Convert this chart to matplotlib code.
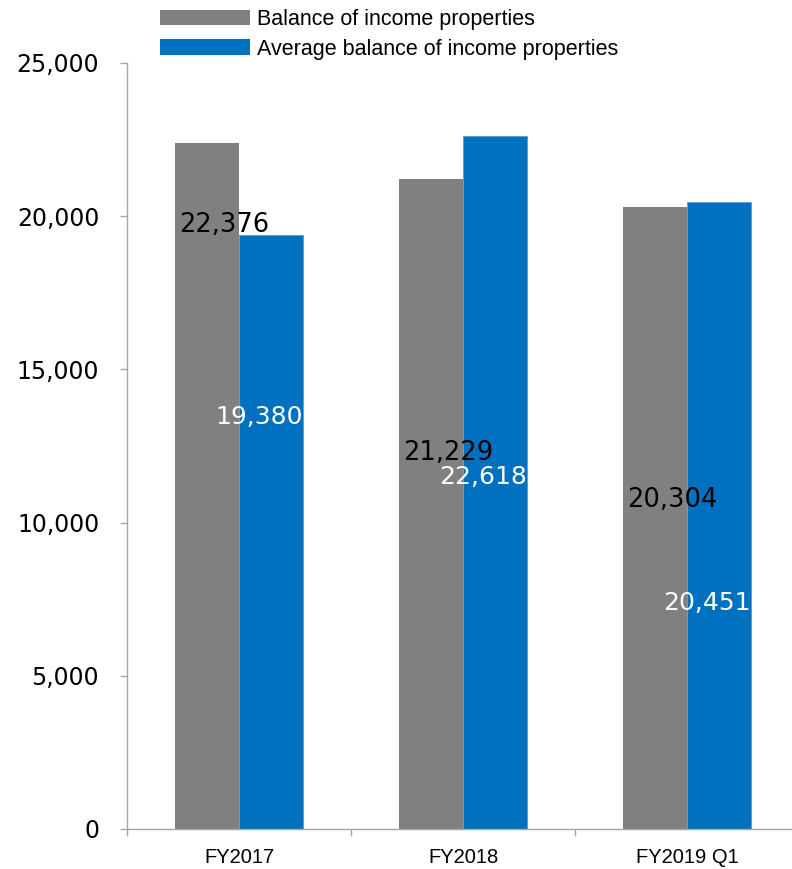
import matplotlib

matplotlib.use("Agg")
import matplotlib.pyplot as plt
from matplotlib.patches import Patch
from matplotlib.ticker import FuncFormatter, FixedLocator
import numpy as np

categories = ["FY2017", "FY2018", "FY2019 Q1"]
balance = [22376, 21229, 20304]
avg_balance = [19380, 22618, 20451]
series_names = ["Balance of income properties", "Average balance of income properties"]

# heights (data units) where the value labels sit
balance_label_y = [19710, 12270, 10740]
avg_label_y = [13450, 11490, 7380]

GRAY = "#808080"
BLUE = "#0070C0"
AXIS = "#a6a6a6"

fig = plt.figure(figsize=(7.92, 8.69), dpi=100)
ax = fig.add_axes([127 / 792, 1 - 829 / 869, 672 / 792, 766 / 869])

x = np.arange(len(categories)) + 0.5
w = 0.286
ax.bar(x - w / 2, balance, width=w, color=GRAY, linewidth=0)
ax.bar(x + w / 2, avg_balance, width=w, color=BLUE, edgecolor="#5b9bd5", linewidth=0.6)

for xi, v, ly in zip(x, balance, balance_label_y):
    ax.text(xi - 0.067, ly, f"{v:,}", ha="center", va="center",
            fontsize=18.5, color="black", family="DejaVu Sans")
for xi, v, ly in zip(x, avg_balance, avg_label_y):
    ax.text(xi + w, ly, f"{v:,}", ha="right", va="center",
            fontsize=18, color="white", family="DejaVu Sans")

ax.set_xlim(0, 3)
ax.set_ylim(0, 25000)

ax.yaxis.set_major_locator(FixedLocator(np.arange(0, 25001, 5000)))
ax.yaxis.set_major_formatter(FuncFormatter(lambda v, _: f"{int(v):,}"))
ax.tick_params(axis="y", length=5, width=1, color=AXIS, pad=15, labelsize=17)
for lbl in ax.get_yticklabels():
    lbl.set_family("DejaVu Sans")

ax.set_xticks(x)
ax.set_xticklabels(categories)
ax.set_xticks(np.arange(0, 4), minor=True)
ax.tick_params(axis="x", which="major", length=0, pad=14, labelsize=14.5)
ax.tick_params(axis="x", which="minor", length=5, width=1, color=AXIS)
for lbl in ax.get_xticklabels():
    lbl.set_family(["Liberation Sans Narrow", "Liberation Sans"])

for side in ("top", "right"):
    ax.spines[side].set_visible(False)
for side in ("left", "bottom"):
    ax.spines[side].set_color(AXIS)
    ax.spines[side].set_linewidth(1)
ax.spines["bottom"].set_clip_on(False)

handles = [Patch(facecolor=GRAY, linewidth=0), Patch(facecolor=BLUE, linewidth=0)]
fig.legend(handles, series_names, loc="upper left", bbox_to_anchor=(160 / 792, 1 - 9 / 869),
           frameon=False, borderpad=0, borderaxespad=0, handlelength=4.2, handleheight=0.75,
           handletextpad=0.3, labelspacing=0.4,
           prop={"family": "Liberation Sans", "size": 15.5})

fig.savefig("out.png", dpi=100)
